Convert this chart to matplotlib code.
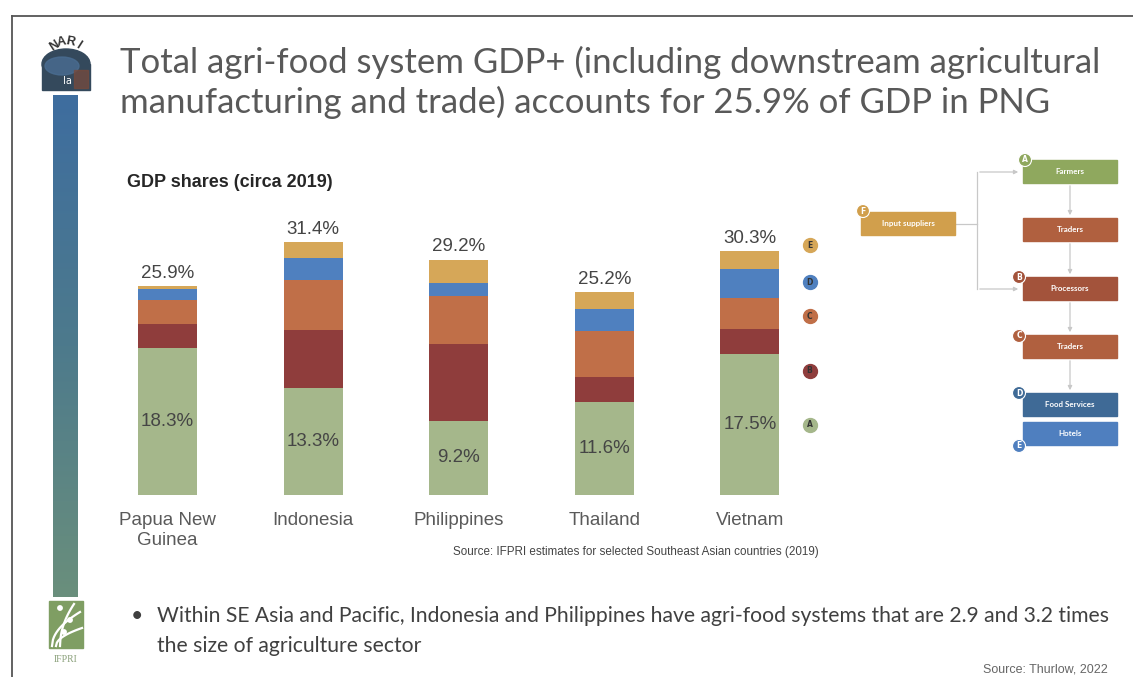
import numpy as np
import matplotlib.pyplot as plt
from matplotlib.patches import Rectangle, Circle, Ellipse, FancyArrowPatch
from matplotlib.colors import LinearSegmentedColormap

# GDP shares (% of GDP), circa 2019
countries = ["Papua New\nGuinea", "Indonesia", "Philippines", "Thailand", "Vietnam"]
farmers = [18.3, 13.3, 9.2, 11.6, 17.5]        # A
processors = [2.9, 7.2, 9.5, 3.0, 3.1]         # B
traders = [3.0, 6.2, 6.0, 5.8, 3.8]            # C
food_services = [1.3, 2.7, 1.6, 2.7, 3.6]      # D
hotels = [0.4, 2.0, 2.9, 2.1, 2.3]             # E
totals = [25.9, 31.4, 29.2, 25.2, 30.3]

segments = [farmers, processors, traders, food_services, hotels]
seg_letters = ["A", "B", "C", "D", "E"]
seg_colors = ["#a5b78b", "#8f3d3c", "#c06f48", "#4f80bf", "#d6a758"]

W, H = 1133, 677
fig = plt.figure(figsize=(W / 100, H / 100), dpi=100)
fig.patch.set_facecolor("white")

# full-page overlay in pixel coordinates (y grows downward)
bg = fig.add_axes([0, 0, 1, 1])
bg.set_xlim(0, W)
bg.set_ylim(H, 0)
bg.axis("off")

# slide frame
bg.plot([12, W], [16, 16], color="#555555", lw=1.3)
bg.plot([12, 12], [16, H], color="#555555", lw=1.3)

# left colour strip
strip = LinearSegmentedColormap.from_list("strip", ["#3e6d9f", "#4d7a8c", "#6a8f7c"])
grad = np.linspace(0, 1, 256).reshape(-1, 1)
bg.imshow(grad, cmap=strip, extent=[53, 78, 597, 95], aspect="auto", zorder=1)

# NARI badge
bg.add_patch(Ellipse((66, 64), 48, 30, color="#34495c", zorder=2))
bg.add_patch(Rectangle((42, 64), 48, 26, color="#34495c", zorder=2))
bg.add_patch(Ellipse((62, 66), 34, 18, color="#4a6d92", zorder=2.2, alpha=0.8))
bg.add_patch(Rectangle((74, 70), 14, 18, color="#7a4a3a", zorder=2.3, alpha=0.7))
bg.text(67, 81, "Ia", color="white", fontsize=7, ha="center", va="center", zorder=3)
for ch, th in zip("NARI", [-33, -11, 11, 33]):
    r = np.deg2rad(th)
    bg.text(66 + 22 * np.sin(r), 64 - 22 * np.cos(r), ch, rotation=-th,
            fontsize=9, fontweight="bold", color="#333333",
            ha="center", va="center", family="Liberation Sans", zorder=3)

# IFPRI badge
bg.add_patch(Rectangle((49, 601), 34, 47, color="#7f9e63", zorder=2))
tt = np.linspace(0, 1, 30)
for x0, x1, y1 in [(52, 80, 612), (56, 82, 628), (60, 74, 604)]:
    bg.plot(x0 + (x1 - x0) * tt, 646 - (646 - y1) * np.sqrt(tt), color="white", lw=1.6, zorder=3)
for cx, cy in [(60, 608), (70, 620), (64, 632)]:
    bg.add_patch(Circle((cx, cy), 2.2, color="white", zorder=3))
bg.text(66, 660, "IFPRI", fontsize=7, color="#8aa07a", ha="center", va="center",
        family="Liberation Serif", zorder=3)

# title
title_kw = dict(fontsize=25, color="#595959", family="Lato", va="baseline")
bg.text(120, 73, "Total agri-food system GDP+ (including downstream agricultural", **title_kw)
bg.text(120, 113, "manufacturing and trade) accounts for 25.9% of GDP in PNG", **title_kw)

bg.text(127, 187, "GDP shares (circa 2019)", fontsize=13, fontweight="bold",
        color="#262626", family="Liberation Sans", va="baseline")

bg.text(453, 555, "Source: IFPRI estimates for selected Southeast Asian countries (2019)",
        fontsize=8.4, color="#444444", family="Liberation Sans", va="baseline")

# bullet
body_kw = dict(fontsize=15.2, color="#404040", family="Lato", va="baseline")
bg.text(131, 622, "\u2022", **body_kw)
bg.text(157, 622, "Within SE Asia and Pacific, Indonesia and Philippines have agri-food "
        "systems that are 2.9 and 3.2 times", **body_kw)
bg.text(157, 652, "the size of agriculture sector", **body_kw)

bg.text(1108, 672, "Source: Thurlow, 2022", fontsize=9, color="#666666",
        family="Liberation Sans", ha="right", va="baseline")

# value-chain diagram
boxes = [
    ("Farmers", 1023, 160, "#8fa85e"),
    ("Traders", 1023, 218, "#b0603f"),
    ("Processors", 1023, 277, "#a3533b"),
    ("Traders", 1023, 335, "#b0603f"),
    ("Food Services", 1023, 393, "#3f6a96"),
    ("Hotels", 1023, 422, "#4f7fbf"),
    ("Input suppliers", 861, 212, "#d19f4c"),
]
for name, x0, y0, col in boxes:
    bg.add_patch(Rectangle((x0, y0), 94, 23, color=col, zorder=3))
    bg.text(x0 + 47, y0 + 11.5, name, color="white", fontsize=5.8, fontweight="bold",
            family="Lato", ha="center", va="center", zorder=4)

badges = [("A", 1025, 160, "#8fa85e"), ("F", 863, 211, "#d19f4c"),
          ("B", 1019, 277, "#a3533b"), ("C", 1019, 336, "#b0603f"),
          ("D", 1019, 393, "#3f6a96"), ("E", 1019, 446, "#4f7fbf")]
for ch, cx, cy, col in badges:
    bg.add_patch(Circle((cx, cy), 6.5, facecolor=col, edgecolor="white", lw=0.8, zorder=5))
    bg.text(cx, cy, ch, color="white", fontsize=5.5, fontweight="bold",
            ha="center", va="center", zorder=6)

line_kw = dict(color="#c8c8c8", lw=0.9, zorder=2)
bg.plot([955, 977], [224, 224], **line_kw)
bg.plot([977, 977], [172, 289], **line_kw)
for y in (172, 289):
    bg.add_patch(FancyArrowPatch((977, y), (1021, y), arrowstyle="-|>",
                                 mutation_scale=6, **line_kw))
for y0, y1 in [(183, 218), (241, 277), (300, 335), (358, 393)]:
    bg.add_patch(FancyArrowPatch((1070, y0), (1070, y1), arrowstyle="-|>",
                                 mutation_scale=6, **line_kw))

# stacked bars
ax = fig.add_axes([94.7 / W, (H - 495) / H, 757.1 / W, 322.4 / H])
ax.set_facecolor("none")
x = np.arange(len(countries))
bottom = np.zeros(len(countries))
for vals, col in zip(segments, seg_colors):
    ax.bar(x, vals, 0.405, bottom=bottom, color=col, zorder=2)
    bottom += np.array(vals)

for i in range(len(countries)):
    ax.text(x[i], farmers[i] / 2, f"{farmers[i]:.1f}%", ha="center", va="center",
            fontsize=13.5, color="#454545", family="Liberation Sans", zorder=3)
    ax.annotate(f"{totals[i]:.1f}%", (x[i], bottom[i]), xytext=(0, 3),
                textcoords="offset points", ha="center", va="bottom",
                fontsize=13.5, color="#454545", family="Liberation Sans")

# segment key beside the last bar
key_y = [8.7, 15.4, 22.2, 26.4, 31.0]
for ch, col, ky in zip(seg_letters, seg_colors, key_y):
    ax.plot(4.41, ky, "o", ms=10, color=col, zorder=3, clip_on=False)
    ax.text(4.41, ky, ch, fontsize=5.5, fontweight="bold", color="#333333",
            ha="center", va="center", zorder=4)

ax.set_xlim(-0.5, 4.7)
ax.set_ylim(0, 40)
ax.set_xticks(x)
ax.set_xticklabels(countries, fontsize=13.5, color="#5a5a5a", family="Liberation Sans",
                   linespacing=1.25)
ax.tick_params(axis="x", length=0, pad=12)
ax.set_yticks([])
for s in ax.spines.values():
    s.set_visible(False)

fig.savefig("out.png", dpi=100, facecolor="white")
